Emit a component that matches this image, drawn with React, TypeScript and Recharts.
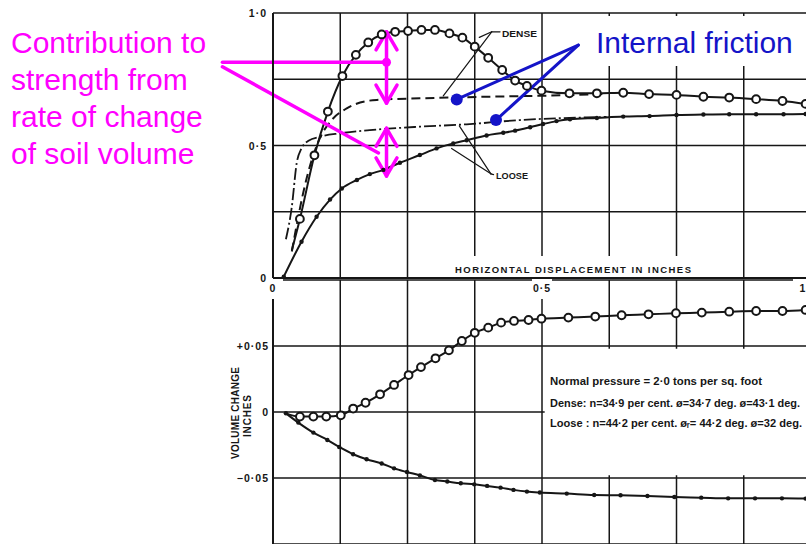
import React from "react";
import {
  CartesianGrid,
  Line,
  LineChart,
  ReferenceArea,
  ReferenceDot,
  ReferenceLine,
  XAxis,
  YAxis,
} from "recharts";

// horizontal displacement (inches) vs shear ratio
const denseRatioX = [0.035, 0.05, 0.077, 0.102, 0.129, 0.154, 0.177, 0.202, 0.227, 0.251, 0.276, 0.301, 0.328, 0.352, 0.375, 0.4, 0.426, 0.45, 0.472, 0.499, 0.551, 0.602, 0.651, 0.699, 0.75, 0.8, 0.848, 0.898, 0.947, 0.99];
const denseRatioY = [0.105, 0.223, 0.463, 0.628, 0.762, 0.842, 0.889, 0.919, 0.929, 0.932, 0.936, 0.936, 0.923, 0.907, 0.873, 0.831, 0.785, 0.745, 0.725, 0.707, 0.697, 0.697, 0.699, 0.694, 0.691, 0.684, 0.681, 0.675, 0.668, 0.657];

const denseFrictionX = [0.035, 0.047, 0.056, 0.072, 0.087, 0.109, 0.137, 0.162, 0.193, 0.273, 0.35, 0.45, 0.55, 0.62];
const denseFrictionY = [0.1, 0.231, 0.32, 0.445, 0.527, 0.596, 0.64, 0.662, 0.672, 0.678, 0.682, 0.686, 0.69, 0.695];

const looseFrictionX = [0.024, 0.035, 0.044, 0.053, 0.066, 0.087, 0.125, 0.18, 0.273, 0.36, 0.459, 0.583, 0.62];
const looseFrictionY = [0.146, 0.269, 0.433, 0.489, 0.518, 0.533, 0.546, 0.558, 0.571, 0.58, 0.596, 0.606, 0.608];

const looseRatioX = [0.02, 0.053, 0.081, 0.106, 0.128, 0.156, 0.18, 0.205, 0.236, 0.273, 0.304, 0.335, 0.36, 0.397, 0.428, 0.45, 0.478, 0.502, 0.527, 0.552, 0.602, 0.651, 0.7, 0.75, 0.8, 0.848, 0.898, 0.949, 0.99];
const looseRatioY = [0.005, 0.137, 0.231, 0.296, 0.338, 0.37, 0.392, 0.408, 0.435, 0.464, 0.489, 0.508, 0.52, 0.538, 0.548, 0.556, 0.569, 0.581, 0.592, 0.599, 0.604, 0.609, 0.611, 0.615, 0.617, 0.618, 0.618, 0.618, 0.619];

// volume change (inches)
const denseVolX = [0.024, 0.05, 0.075, 0.099, 0.126, 0.149, 0.172, 0.199, 0.225, 0.252, 0.275, 0.302, 0.327, 0.351, 0.375, 0.4, 0.424, 0.448, 0.475, 0.499, 0.549, 0.599, 0.648, 0.698, 0.749, 0.797, 0.848, 0.898, 0.947, 0.99];
const denseVolY = [-0.001, -0.0035, -0.0035, -0.0035, -0.0025, 0.0026, 0.007, 0.0134, 0.0205, 0.028, 0.034, 0.0407, 0.0467, 0.0538, 0.06, 0.0639, 0.0677, 0.069, 0.0697, 0.0707, 0.0715, 0.0723, 0.0733, 0.074, 0.0748, 0.0753, 0.076, 0.0765, 0.0765, 0.0773];

const looseVolX = [0.024, 0.047, 0.075, 0.101, 0.123, 0.149, 0.174, 0.202, 0.225, 0.249, 0.273, 0.301, 0.324, 0.349, 0.374, 0.398, 0.423, 0.447, 0.472, 0.496, 0.546, 0.597, 0.646, 0.696, 0.746, 0.796, 0.846, 0.896, 0.946, 0.99];
const looseVolY = [-0.001, -0.008, -0.0156, -0.0212, -0.0265, -0.032, -0.0358, -0.039, -0.0427, -0.0455, -0.048, -0.0515, -0.0527, -0.054, -0.0548, -0.056, -0.0573, -0.059, -0.0603, -0.061, -0.0618, -0.0629, -0.0631, -0.0636, -0.0644, -0.0649, -0.0654, -0.0654, -0.0654, -0.0656];

const dispTicks = [0, 0.125, 0.25, 0.375, 0.5, 0.625, 0.75, 0.875, 1];
const dispLabels: Record<string, string> = { "0": "0", "0.5": "0·5", "1": "1" };
const ratioTicks = [0, 0.25, 0.5, 0.75, 1];
const ratioLabels: Record<string, string> = { "0": "0", "0.5": "0·5", "1": "1·0" };
const volTicks = [-0.1, -0.05, 0, 0.05, 0.1];
const volLabels: Record<string, string> = { "-0.05": "−0·05", "0": "0", "0.05": "+0·05" };

const inset = [
  "Normal pressure = 2·0 tons per sq. foot",
  "Dense: n=34·9 per cent. ø=34·7 deg. ø=43·1 deg.",
  "Loose : n=44·2 per cent. øᵣ= 44·2 deg. ø=32 deg.",
];
const magentaNote = ["Contribution to", "strength from", "rate of change", "of soil volume"];

// annotation geometry, in data units of the upper chart
type Pt = [number, number];
const arrowX = 0.211;
const head = (x: number, y: number, up: boolean): [Pt, Pt][] => {
  const dy = up ? -0.068 : 0.068;
  return [
    [[x - 0.0195, y + dy], [x, y]],
    [[x + 0.0195, y + dy], [x, y]],
  ];
};
const magentaSegs: [Pt, Pt][] = [
  [[-0.094, 0.814], [arrowX, 0.814]],
  [[-0.094, 0.797], [0.196, 0.472]],
  [[arrowX, 0.929], [arrowX, 0.66]],
  [[arrowX, 0.565], [arrowX, 0.385]],
  ...head(arrowX, 0.929, true),
  ...head(arrowX, 0.66, false),
  ...head(arrowX, 0.565, true),
  ...head(arrowX, 0.385, false),
];
const blueApex: Pt = [0.5675, 0.879];
const blueEnds: Pt[] = [[0.3415, 0.674], [0.4145, 0.596]];
const leaderSegs: [Pt, Pt][] = [
  [[0.422, 0.929], [0.4065, 0.929]],
  [[0.4065, 0.929], [0.3835, 0.908]],
  [[0.4065, 0.929], [0.3165, 0.687]],
  [[0.41, 0.39], [0.405, 0.393]],
  [[0.405, 0.393], [0.3463, 0.574]],
  [[0.405, 0.393], [0.332, 0.489]],
];

const zip = (xs: number[], ys: number[]) => xs.map((x, i) => ({ x, y: ys[i] }));

const INK = "#161616";
const MAGENTA = "#ff00ff";
const BLUE = "#1414c8";
const font = "'Liberation Sans', Arial, sans-serif";
const tickStyle = { fontFamily: font, fontSize: 10.5, fontWeight: 700, fill: INK, letterSpacing: 1 };

function YTick(labels: Record<string, string>) {
  return function Tick(props: any) {
    const label = labels[String(props.payload.value)];
    if (!label) return <g />;
    return (
      <text x={props.x} y={props.y} textAnchor="end" dominantBaseline="central" style={tickStyle}>
        {label}
      </text>
    );
  };
}

function DispTick(props: any) {
  const { x, y, payload } = props;
  const label = dispLabels[String(payload.value)];
  if (!label) return <g />;
  // the last label sits on the page edge, keep it inside
  const lx = payload.value === 1 ? x - 8 : x;
  return (
    <g>
      <rect x={lx - 10} y={y - 1} width={20} height={20} fill="#fff" />
      <text x={lx} y={y + 8} textAnchor="middle" dominantBaseline="central" style={tickStyle}>
        {label}
      </text>
    </g>
  );
}

const NoTick = () => <g />;

const openDot = (p: any) =>
  p.index === 0 ? (
    <g key={`o${p.index}`} />
  ) : (
    <circle key={`o${p.index}`} cx={p.cx} cy={p.cy} r={3.9} fill="#fff" stroke={INK} strokeWidth={2} />
  );
const solidDot = (p: any) => <circle key={`s${p.index}`} cx={p.cx} cy={p.cy} r={2.2} fill={INK} />;

const seg = (s: [Pt, Pt], i: number, stroke: string, width: number) => (
  <ReferenceLine
    key={`${stroke}${i}`}
    segment={[{ x: s[0][0], y: s[0][1] }, { x: s[1][0], y: s[1][1] }]}
    stroke={stroke}
    strokeWidth={width}
    strokeLinecap="round"
    ifOverflow="visible"
  />
);

const figText = { fontFamily: font, fontWeight: 700, fill: INK } as const;

export default function App() {
  return (
    <div style={{ position: "absolute", left: 0, top: 0, width: 806, height: 544, overflow: "hidden", background: "#fff" }}>
      <div style={{ position: "absolute", left: 0, top: 0 }}>
        <LineChart width={830} height={544} margin={{ top: 280, right: 19, left: 0, bottom: 0 }}>
          <CartesianGrid stroke={INK} strokeWidth={1.5} />
          <XAxis
            type="number"
            dataKey="x"
            domain={[0, 1]}
            ticks={dispTicks}
            interval={0}
            height={0}
            tick={NoTick}
            axisLine={false}
            tickLine={false}
          />
          <YAxis
            type="number"
            domain={[-0.1, 0.1]}
            ticks={volTicks}
            width={273}
            tick={YTick(volLabels)}
            tickSize={0}
            tickMargin={4}
            tickLine={false}
            axisLine={{ stroke: INK, strokeWidth: 2 }}
          />
          <ReferenceArea x1={0.505} x2={1} y1={-0.048} y2={0.048} fill="#fff" fillOpacity={1} stroke="none" />
          <Line data={zip(denseVolX, denseVolY)} dataKey="y" type="monotone" stroke={INK} strokeWidth={2} dot={openDot} activeDot={false} isAnimationActive={false} />
          <Line data={zip(looseVolX, looseVolY)} dataKey="y" type="monotone" stroke={INK} strokeWidth={2} dot={solidDot} activeDot={false} isAnimationActive={false} />
        </LineChart>
      </div>

      <div style={{ position: "absolute", left: 0, top: 0 }}>
        <LineChart width={830} height={300} margin={{ top: 13, right: 19, left: 0, bottom: 0 }}>
          <CartesianGrid stroke={INK} strokeWidth={1.5} />
          <XAxis
            type="number"
            dataKey="x"
            domain={[0, 1]}
            ticks={dispTicks}
            interval={0}
            height={22}
            tick={DispTick}
            tickSize={0}
            tickMargin={2}
            tickLine={false}
            axisLine={{ stroke: INK, strokeWidth: 2 }}
          />
          <YAxis
            type="number"
            domain={[0, 1]}
            ticks={ratioTicks}
            width={273}
            tick={YTick(ratioLabels)}
            tickSize={0}
            tickMargin={6}
            tickLine={false}
            axisLine={{ stroke: INK, strokeWidth: 2 }}
          />
          <ReferenceArea x1={0.329} x2={0.864} y1={0.004} y2={0.083} fill="#fff" fillOpacity={1} stroke="none" />
          <ReferenceArea x1={0.515} x2={1} y1={0.8} y2={0.989} fill="#fff" fillOpacity={1} stroke="none" />
          <Line data={zip(denseFrictionX, denseFrictionY)} dataKey="y" type="monotone" stroke={INK} strokeWidth={2} strokeDasharray="9 5" dot={false} activeDot={false} isAnimationActive={false} />
          <Line data={zip(looseFrictionX, looseFrictionY)} dataKey="y" type="monotone" stroke={INK} strokeWidth={1.8} strokeDasharray="12 3 2 3" dot={false} activeDot={false} isAnimationActive={false} />
          <Line data={zip(looseRatioX, looseRatioY)} dataKey="y" type="monotone" stroke={INK} strokeWidth={2} dot={solidDot} activeDot={false} isAnimationActive={false} />
          <Line data={zip(denseRatioX, denseRatioY)} dataKey="y" type="monotone" stroke={INK} strokeWidth={2} dot={openDot} activeDot={false} isAnimationActive={false} />
          {leaderSegs.map((s, i) => seg(s, i, INK, 1.2))}
          {magentaSegs.map((s, i) => seg(s, i, MAGENTA, 3.5))}
          <ReferenceDot x={arrowX} y={0.814} r={4.5} fill={MAGENTA} stroke="none" ifOverflow="visible" />
          {blueEnds.map((e, i) => seg([blueApex, e], i, BLUE, 3))}
          {blueEnds.map((e, i) => (
            <ReferenceDot key={`bd${i}`} x={e[0]} y={e[1]} r={6} fill={BLUE} stroke="none" ifOverflow="visible" />
          ))}
        </LineChart>
      </div>

      <svg width={806} height={544} style={{ position: "absolute", left: 0, top: 0, pointerEvents: "none" }}>
        {magentaNote.map((t, i) => (
          <text key={t} x={11} y={53 + i * 37} style={{ fontFamily: font, fontSize: 30, fill: MAGENTA }}>
            {t}
          </text>
        ))}
        <text x={596} y={53} style={{ fontFamily: font, fontSize: 30, fill: BLUE }}>
          Internal friction
        </text>
        <text x={502} y={33} dominantBaseline="central" textLength={35} lengthAdjust="spacingAndGlyphs" style={{ ...figText, fontSize: 9.5 }}>
          DENSE
        </text>
        <text x={496} y={175} dominantBaseline="central" textLength={32} lengthAdjust="spacingAndGlyphs" style={{ ...figText, fontSize: 9.5 }}>
          LOOSE
        </text>
        <text x={455} y={269} dominantBaseline="central" textLength={236} lengthAdjust="spacing" style={{ ...figText, fontSize: 9.5 }}>
          HORIZONTAL DISPLACEMENT IN INCHES
        </text>
        <text transform="translate(235,413) rotate(-90)" textAnchor="middle" dominantBaseline="central" textLength={92} lengthAdjust="spacing" style={{ ...figText, fontSize: 10 }}>
          VOLUME CHANGE
        </text>
        <text transform="translate(247,416) rotate(-90)" textAnchor="middle" dominantBaseline="central" textLength={42} lengthAdjust="spacing" style={{ ...figText, fontSize: 10 }}>
          INCHES
        </text>
        {inset.map((t, i) => (
          <text key={t} x={550} y={[381, 403, 423][i]} dominantBaseline="central" textLength={[212, 250, 252][i]} lengthAdjust="spacingAndGlyphs" style={{ ...figText, fontSize: 11 }}>
            {t}
          </text>
        ))}
      </svg>
    </div>
  );
}
